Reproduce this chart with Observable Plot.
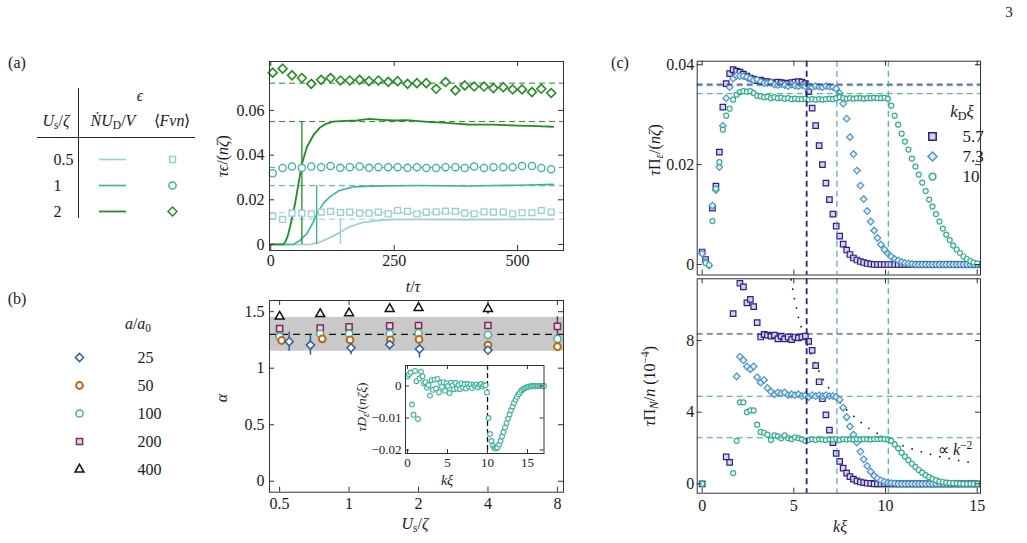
<!DOCTYPE html>
<html><head><meta charset="utf-8">
<script src="https://cdn.jsdelivr.net/npm/d3@7"></script>
<script src="https://cdn.jsdelivr.net/npm/@observablehq/plot@0.6"></script>
<style>
html,body{margin:0;padding:0;background:#fff;}
#fig{position:relative;width:1027px;height:543px;overflow:hidden;font-family:"Liberation Serif","Times New Roman",serif;color:#1a1a1a;background:#fff;}
#fig svg{position:absolute;left:0;top:0;}
#fig svg, #fig svg text{font-family:"Liberation Serif","Times New Roman",serif !important;}
.lbl{position:absolute;white-space:nowrap;line-height:1;}
sub{font-size:72%;vertical-align:-0.28em;line-height:0;}
sup{font-size:72%;vertical-align:0.5em;line-height:0;}
.hl{position:absolute;background:#222;}
</style></head><body><div id="fig"></div><script>
// ---------------- DATA ----------------
// Panel (a)
const usLabels = ["0.5", "1", "2"];
const tMarkers = [4,24,43,63,82,102,121,141,160,180,199,218,238,257,277,296,315,335,354,374,393,412,432,451,471,490,509,529,548,568];
const fvn05 = [0.0127,0.0112,0.0140,0.0140,0.0137,0.0145,0.0148,0.0143,0.0145,0.0140,0.0140,0.0145,0.0137,0.0152,0.0148,0.0137,0.0145,0.0146,0.0149,0.0148,0.0140,0.0137,0.0146,0.0145,0.0145,0.0137,0.0142,0.0142,0.0152,0.0145];
const fvn1 = [0.0319,0.0342,0.0349,0.0343,0.0349,0.0346,0.0351,0.0343,0.0346,0.0349,0.0343,0.0346,0.0346,0.0346,0.0343,0.0346,0.0342,0.0342,0.0346,0.0346,0.0342,0.0349,0.0342,0.0346,0.0346,0.0346,0.0351,0.0351,0.0342,0.0337];
const fvn2 = [0.0769,0.0787,0.0757,0.0745,0.0719,0.0737,0.0745,0.0734,0.0734,0.0737,0.0731,0.0734,0.0728,0.0731,0.0719,0.0722,0.0722,0.0697,0.0727,0.0690,0.0712,0.0707,0.0707,0.0700,0.0704,0.0694,0.0694,0.0682,0.0697,0.0678];
const curveT05 = [0,79,99,119,141,159,186,219,253,300,400,500,572];
const curveE05 = [0,0,0.001,0.003,0.0055,0.0078,0.0098,0.0108,0.0112,0.0112,0.0111,0.0112,0.0112];
const curveT1 = [0,46,59,73,86,93,106,119,139,166,199,250,300,350,400,450,500,540,572];
const curveE1 = [0,0,0.0018,0.0048,0.0100,0.0137,0.0182,0.0212,0.0242,0.0257,0.0261,0.0263,0.0264,0.0263,0.0262,0.0264,0.0265,0.0267,0.0269];
const curveT2 = [0,25,29,34,39,44,49,56,63,73,86,99,112,126,150,175,200,225,250,275,300,325,350,375,400,425,450,475,500,525,550,572];
const curveE2 = [0,0,0.001,0.0035,0.0078,0.0128,0.018,0.027,0.036,0.0435,0.0488,0.0522,0.054,0.055,0.0553,0.0555,0.0562,0.0558,0.0555,0.0557,0.0552,0.0548,0.0545,0.0541,0.0537,0.0536,0.0536,0.0534,0.0532,0.0531,0.0529,0.0527];
const halfT = [141, 93, 63];
const theoryEps = [0.0113, 0.0263, 0.0550];
const meanFvn = [0.0142, 0.0345, 0.0722];
const aTicksX = [0, 250, 500];
const aTicksY = [0, 0.02, 0.04, 0.06];

// Panel (b)
const aSizes = [25, 50, 100, 200, 400];
const bX25 = [0.55,0.68,1.02,1.50,2.02,4.00];
const bY25 = [1.235,1.205,1.180,1.210,1.170,1.160];
const bE25 = [0.085,0.09,0.06,0.05,0.08,0.025];
const bX50 = [0.51,0.765,1.01,1.51,2.01,4.0,8.0];
const bY50 = [1.245,1.26,1.25,1.25,1.255,1.205,1.19];
const bE50 = [0.03,0.02,0.02,0.02,0.02,0.02,0.02];
const bX100 = [0.5,0.75,1.0,1.5,2.0,4.0,8.0];
const bY100 = [1.28,1.305,1.305,1.305,1.31,1.295,1.26];
const bE100 = [0.015,0.015,0.015,0.015,0.015,0.015,0.02];
const bX200 = [0.5,0.75,1.0,1.5,2.0,4.0,8.0];
const bY200 = [1.35,1.355,1.365,1.375,1.378,1.378,1.37];
const bE200 = [0.02,0.02,0.02,0.02,0.02,0.02,0.085];
const bX400 = [0.5,0.75,1.0,1.5,2.0,4.0];
const bY400 = [1.457,1.48,1.487,1.525,1.534,1.525];
const bE400 = [0.01,0.01,0.01,0.01,0.01,0.045];
const alphaMean = 1.3, alphaLo = 1.15, alphaHi = 1.45;
const bTicksX = [0.5, 1, 2, 4, 8];
const bTicksY = [0, 0.5, 1, 1.5];

// Inset of (b)
const kGrid = [0,0.19,0.38,0.56,0.75,0.94,1.13,1.31,1.5,1.69,1.88,2.06,2.25,2.44,2.63,2.81,3,3.19,3.38,3.56,3.75,3.94,4.13,4.31,4.5,4.69,4.88,5.06,5.25,5.44,5.63,5.81,6,6.19,6.38,6.56,6.75,6.94,7.13,7.31,7.5,7.69,7.88,8.06,8.25,8.44,8.63,8.81,9,9.19,9.38,9.56,9.75,9.94,10.13,10.31,10.5,10.69,10.88,11.06,11.25,11.44,11.63,11.81,12,12.19,12.38,12.56,12.75,12.94,13.13,13.31,13.5,13.69,13.88,14.06,14.25,14.44,14.63,14.81,15];
const insetK = kGrid.concat([15.19,15.38,15.56,15.75,15.94,16.13,16.31,16.5,16.69,16.88,17.06]);
const insetD = [0.0030,0.0036,0.0042,-0.0058,-0.0090,0.0047,0.0015,-0.0103,0.0024,0.0045,
 0.0030,0.0008,0.0012,-0.0005,0.0003,-0.0030,0.0018,-0.0012,0.0020,-0.0008,
 0.0022,-0.0020,0.0010,-0.0003,0.0012,-0.0015,0.0008,0.0000,-0.0022,0.0010,
 0.0002,-0.0010,0.0010,-0.0008,0.0003,-0.0010,0.0008,-0.0005,0.0006,-0.0008,
 0.0006,-0.0002,0.0005,-0.0006,0.0004,0.0000,0.0005,-0.0004,0.0003,0.0006,
 -0.0002,0.0004,0.0002,
 -0.0020,-0.0100,-0.0150,-0.0172,-0.0187,-0.0194,-0.0195,-0.0192,-0.0183,-0.0172,
 -0.0158,-0.0144,-0.0130,-0.0116,-0.0102,-0.0089,-0.0076,-0.0064,-0.0053,-0.0043,
 -0.0034,-0.0026,-0.0020,-0.0014,-0.0010,-0.0007,-0.0005,-0.0003,-0.0002,-0.0001,
 0,0,0,0,0,0,0,0,0];
const insetKD = 10;
const inTicksX = [0, 5, 10, 15];
const inTicksY = [0, -0.01, -0.02];

// Panel (c)
const kdLabels = ["5.7", "7.3", "10"];
const kdValues = [5.7, 7.35, 10.15];
const piE57 = [0.0025,0.0010,null,0.0113,0.0157,0.0225,0.0315,0.0362,0.0382,0.0390,
 0.0387,0.0385,0.0381,0.0377,0.0373,0.0371,0.0368,0.0369,0.0366,0.0366,
 0.0364,0.0363,0.0365,0.0364,0.0363,0.0362,0.0364,0.0365,0.0366,0.0365,
 0.0362,0.0346,0.0313,0.0278,0.0238,0.0200,0.0163,0.0130,0.0101,0.0077,
 0.0057,0.0041,0.0029,0.0020,0.0013,0.0009,0.0006,0.0004,0.0002,0.0001,
 0,0,0,0,0,0,0,0,0,0, 0,0,0,0,0,0,0,0,0,0, 0,0,0,0,0,0,0,0,0,0, 0];
const piE73 = [0.0022,0.0005,-0.0002,0.0118,0.0149,0.0195,0.0278,0.0333,0.0355,0.0372,
 0.0378,0.0377,0.0377,0.0375,0.0372,0.0369,0.0370,0.0366,0.0363,0.0363,
 0.0365,0.0360,0.0359,0.0361,0.0359,0.0357,0.0360,0.0358,0.0357,0.0359,
 0.0356,0.0358,0.0355,0.0357,0.0356,0.0355,0.0357,0.0356,0.0355,0.0352,
 0.0343,0.0322,0.0292,0.0255,0.0221,0.0188,0.0158,0.0131,0.0107,0.0086,
 0.0068,0.0053,0.0040,0.0030,0.0022,0.0016,0.0011,0.0008,0.0005,0.0003,
 0.0002,0.0001,0,0,0,0,0,0,0,0, 0,0,0,0,0,0,0,0,0,0, 0];
const piE10 = [null,0.0003,-0.0001,0.0087,0.0152,0.0205,0.0270,0.0298,0.0312,0.0330,
 0.0340,0.0345,0.0347,0.0346,0.0347,0.0343,0.0338,0.0337,0.0335,0.0336,
 0.0333,0.0335,0.0333,0.0334,0.0332,0.0333,0.0331,0.0332,0.0331,0.0331,
 0.0332,0.0330,0.0331,0.0330,0.0331,0.0330,0.0331,0.0332,0.0331,0.0333,
 0.0335,0.0333,0.0332,0.0333,0.0332,0.0333,0.0333,0.0332,0.0333,0.0333,
 0.0334,0.0333,0.0333,0.0334,0.0332,0.0318,0.0298,0.0280,0.0262,0.0246,
 0.0230,0.0212,0.0196,0.0180,0.0164,0.0147,0.0130,0.0116,0.0101,0.0086,
 0.0072,0.0060,0.0049,0.0038,0.0030,0.0023,0.0016,0.0011,0.0007,0.0004, 0.0002];
const piEMean = [0.0361, 0.0358, 0.0342];
const piN57 = [0,null,null,null,null,null,null,1.5,1.2,9.5,
 null,11.2,11.0,10.1,10.3,9.9,9.0,8.2,8.35,8.3,
 8.25,8.3,8.1,8.25,8.1,8.2,8.05,8.2,8.15,8.2,
 8.25,7.95,7.45,6.6,5.7,4.75,3.85,3.0,2.3,1.7,
 1.25,0.88,0.6,0.4,0.26,0.16,0.1,0.06,0.03,0.02,
 0,0,0,0,0,0,0,0,0,0, 0,0,0,0,0,0,0,0,0,0, 0,0,0,0,0,0,0,0,0,0, 0];
const piN73 = [0,null,null,null,null,null,null,null,null,null,
 6.0,7.1,6.9,6.55,6.4,6.55,5.95,5.65,5.8,5.35,
 5.15,5.0,5.1,5.05,5.1,4.95,5.0,4.95,5.0,4.9,
 4.95,4.85,4.95,4.9,4.95,4.9,4.95,4.9,4.9,4.85,
 4.7,4.25,3.72,3.2,2.75,2.3,1.8,1.37,1.0,0.68,
 0.45,0.3,0.19,0.12,0.07,0.04,0.02,0,0,0,
 0,0,0,0,0,0,0,0,0,0, 0,0,0,0,0,0,0,0,0,0, 0];
const piN10 = [0,null,null,null,null,null,null,null,null,0.6,
 2.4,4.55,4.55,4.0,4.1,4.1,3.3,2.9,2.85,2.75,
 2.45,2.7,2.65,2.55,2.7,2.55,2.5,2.6,2.55,2.5,
 2.4,2.45,2.5,2.45,2.5,2.48,2.45,2.5,2.48,2.5,
 2.45,2.5,2.48,2.5,2.48,2.5,2.48,2.5,2.5,2.48,
 2.5,2.5,2.52,2.5,2.48,2.4,2.2,1.98,1.74,1.52,
 1.32,1.12,0.94,0.77,0.62,0.48,0.37,0.28,0.2,0.14,
 0.1,0.07,0.05,0.03,0.02,0.01,0,0,0,0, 0];
const piNMean = [8.37, 4.89, 2.57];
const powK = [4.85,5.0,5.25,5.5,5.75,6.0,6.5,7.0,7.5,8.0,9.0,10.0,11.0,12.0,13.0,14.0,15.0];
const powN = [11.4,10.5,9.3,8.4,7.7,7.1,6.0,5.2,4.55,4.0,3.15,2.55,2.1,1.77,1.5,1.3,1.13];
const cTicksX = [0, 5, 10, 15];
const cTicksYtop = [0, 0.02, 0.04];
const cTicksYbot = [0, 4, 8];

// ---------------- STYLE / LAYOUT ----------------
const W = 1027, H = 543;
const SERIF = '"Liberation Serif","Times New Roman",serif';
const aCol = ["#97cfd1", "#3bb39a", "#248c24"];
const bCol = {25: "#2f5f9e", 50: "#c0660f", 100: "#3ab494", 200: "#7a2e5e", 400: "#111111"};
const cCol = ["#2e1f80", "#4a93c6", "#2fae8a"];
const FRAME = "#333";
const boxA = {l: 269, r: 563, t: 61, b: 250};
const boxB = {l: 269, r: 563, t: 300, b: 491.7};
const boxIn = {l: 405, r: 543.5, t: 365, b: 453};
const boxC1 = {l: 696.7, r: 980, t: 60.7, b: 274.5};
const boxC2 = {l: 696.7, r: 980, t: 278.3, b: 492.7};
const bXDomain = [0.452, 8.5];

const fig = document.getElementById("fig");

function framePlot(box, xs, ys, marks, fontSize = 16) {
  return Plot.plot({
    width: W, height: H,
    marginLeft: box.l, marginRight: W - box.r, marginTop: box.t, marginBottom: H - box.b,
    x: {axis: null, ...xs}, y: {axis: null, ...ys},
    style: {fontFamily: SERIF, fontSize: fontSize + "px", background: "transparent", color: "#1a1a1a", overflow: "visible"},
    marks
  });
}
function frameTicks(box, xt, yt, len = 5) {
  const fw = box.r - box.l, fh = box.b - box.t, st = {stroke: FRAME, strokeWidth: 1};
  const m = [];
  if (xt) m.push(Plot.tickX(xt, {x: d => d, insetTop: fh - len, ...st}), Plot.tickX(xt, {x: d => d, insetBottom: fh - len, ...st}));
  if (yt) m.push(Plot.tickY(yt, {y: d => d, insetRight: fw - len, ...st}), Plot.tickY(yt, {y: d => d, insetLeft: fw - len, ...st}));
  return m;
}
// tick labels drawn as text marks positioned through the scales
function xLabels(ticks, fmt, dy, fs) {
  return Plot.text(ticks, {x: d => d, text: fmt, frameAnchor: "bottom", dy, lineAnchor: "top", fontSize: fs});
}
function yLabels(ticks, fmt, dx, fs) {
  return Plot.text(ticks, {y: d => d, text: fmt, frameAnchor: "left", dx: -dx, textAnchor: "end", fontSize: fs});
}
const fmtNum = d => d === 0 ? "0" : String(d).replace("-", "\u2212");
function label(html, x, y, {size = 16, rotate = false, anchor = "middle"} = {}) {
  const d = document.createElement("div");
  d.className = "lbl";
  d.innerHTML = html;
  d.style.left = x + "px"; d.style.top = y + "px"; d.style.fontSize = size + "px";
  const tx = anchor === "start" ? "0" : anchor === "end" ? "-100%" : "-50%";
  d.style.transform = `translate(${tx},-50%)` + (rotate ? " rotate(-90deg)" : "");
  fig.appendChild(d);
}
function hline(x, y, w, h) {
  const d = document.createElement("div");
  d.className = "hl";
  d.style.left = x + "px"; d.style.top = y + "px"; d.style.width = w + "px"; d.style.height = h + "px";
  fig.appendChild(d);
}
const idx = a => d3.range(a.length);

// ---------------- PANEL (a) ----------------
const curves = [[curveT05, curveE05], [curveT1, curveE1], [curveT2, curveE2]];
const fvns = [fvn05, fvn1, fvn2];
const aSym = [{symbol: "square", r: 3.3}, {symbol: "circle", r: 3.6}, {symbol: "diamond2", r: 4.0}];
fig.appendChild(framePlot(boxA, {domain: [-2.6, 593]}, {domain: [-0.0027, 0.0819]}, [
  ...theoryEps.map((v, i) => Plot.ruleY([v], {stroke: aCol[i], strokeDasharray: "6,4", strokeWidth: 1})),
  ...meanFvn.map((v, i) => Plot.ruleY([v], {stroke: aCol[i], strokeDasharray: "6,4", strokeWidth: 1})),
  ...curves.map(([T, E], i) => Plot.line(idx(T), {x: j => T[j], y: j => E[j], stroke: aCol[i], strokeWidth: i === 2 ? 1.8 : 1.6})),
  ...halfT.map((t, i) => Plot.ruleX([t], {y1: 0, y2: theoryEps[i], stroke: aCol[i], strokeWidth: 1.3})),
  ...fvns.map((F, i) => Plot.dot(idx(tMarkers), {x: j => tMarkers[j], y: j => F[j], ...aSym[i], stroke: aCol[i], fill: "white", strokeWidth: i === 2 ? 1.6 : 1.3})),
  Plot.frame({stroke: FRAME, strokeWidth: 1}),
  ...frameTicks(boxA, aTicksX, aTicksY),
  xLabels(aTicksX, fmtNum, 4, 16),
  yLabels(aTicksY, fmtNum, 5, 16)
]));

// table of (a)
fig.appendChild(Plot.plot({
  width: W, height: H, marginLeft: 99, marginRight: W - 126, marginTop: 0, marginBottom: 0,
  x: {axis: null}, y: {type: "point", domain: usLabels, range: [158, 211], padding: 0, axis: null},
  style: {fontFamily: SERIF, fontSize: "16px", background: "transparent", color: "#1a1a1a", overflow: "visible"},
  marks: [
    ...usLabels.map((u, i) => Plot.tickY([u], {y: d => d, stroke: aCol[i], strokeWidth: i === 2 ? 1.8 : 1.6})),
    ...usLabels.map((u, i) => Plot.dot([u], {y: d => d, frameAnchor: "right", dx: 46, ...aSym[i], stroke: aCol[i], fill: "white", strokeWidth: 1.5})),
    Plot.text(usLabels, {y: d => d, text: d => d, frameAnchor: "left", dx: -46, fontSize: 16})
  ]
}));

// ---------------- PANEL (b) ----------------
const bSeries = [
  {s: 400, X: bX400, Y: bY400, E: bE400, symbol: "triangle", r: 3.3, fill: "white"},
  {s: 200, X: bX200, Y: bY200, E: bE200, symbol: "square", r: 3.5, fill: "#e8d2de"},
  {s: 100, X: bX100, Y: bY100, E: bE100, symbol: "circle", r: 3.6, fill: "white"},
  {s: 50, X: bX50, Y: bY50, E: bE50, symbol: "circle", r: 3.4, fill: "white"},
  {s: 25, X: bX25, Y: bY25, E: bE25, symbol: "diamond2", r: 3.7, fill: "white"}
];
fig.appendChild(framePlot(boxB, {type: "log", domain: bXDomain}, {domain: [-0.097, 1.599]}, [
  Plot.rect([alphaLo], {x1: bXDomain[0], x2: bXDomain[1], y1: alphaLo, y2: alphaHi, fill: "#c9c9c9"}),
  Plot.ruleY([alphaMean], {stroke: "#111", strokeDasharray: "7,5", strokeWidth: 1.2}),
  ...bSeries.map(S => Plot.ruleX(idx(S.X), {x: j => S.X[j], y1: j => S.Y[j] - S.E[j], y2: j => S.Y[j] + S.E[j], stroke: bCol[S.s], strokeWidth: 1.5})),
  ...bSeries.map(S => Plot.dot(idx(S.X), {x: j => S.X[j], y: j => S.Y[j], symbol: S.symbol, r: S.r, fill: S.fill, stroke: bCol[S.s], strokeWidth: S.s === 50 ? 2 : 1.5})),
  Plot.frame({stroke: FRAME, strokeWidth: 1}),
  ...frameTicks(boxB, bTicksX, bTicksY),
  xLabels(bTicksX, d => String(d), 5.5, 16),
  yLabels(bTicksY, d => String(d), 5, 16)
]));

// inset
fig.appendChild(framePlot(boxIn, {domain: [-0.25, 17.06]}, {domain: [-0.0211, 0.0064]}, [
  Plot.frame({fill: "white"}),
  Plot.ruleX([insetKD], {stroke: "#111", strokeDasharray: "5,3", strokeWidth: 1.3}),
  Plot.dot(idx(insetK), {x: j => insetK[j], y: j => insetD[j], r: 2.4, stroke: aCol[1], fill: "white", strokeWidth: 1.1}),
  Plot.frame({stroke: FRAME, strokeWidth: 1}),
  ...frameTicks(boxIn, inTicksX, inTicksY, 4),
  xLabels(inTicksX, d => String(d), 4, 13),
  yLabels(inTicksY, fmtNum, 4, 13)
], 13));

// legend (b)
fig.appendChild(Plot.plot({
  width: W, height: H, marginLeft: 79, marginRight: W - 200, marginTop: 0, marginBottom: 0,
  x: {axis: null}, y: {type: "point", domain: aSizes, range: [357, 469], padding: 0, axis: null},
  style: {fontFamily: SERIF, fontSize: "16px", background: "transparent", color: "#1a1a1a", overflow: "visible"},
  marks: [
    ...bSeries.map(S => Plot.dot([S.s], {y: d => d, frameAnchor: "left", symbol: S.symbol, r: S.r, fill: S.fill, stroke: bCol[S.s], strokeWidth: S.s === 50 ? 2 : 1.5})),
    Plot.text(aSizes, {y: d => d, text: d => String(d), frameAnchor: "left", dx: 58, fontSize: 16})
  ]
}));

// ---------------- PANEL (c) ----------------
const cSym = [
  {symbol: "square", r: 3.1, fill: "#d8d1ef"},
  {symbol: "diamond2", r: 3.0, fill: "#e4eef8"},
  {symbol: "circle", r: 2.5, fill: "white"}
];
const topSeries = [piE57, piE73, piE10];
const botSeries = [piN57, piN73, piN10];
const cX = {domain: [-0.27, 15.18]};
fig.appendChild(framePlot(boxC1, cX, {domain: [-0.0021, 0.0407]}, [
  ...topSeries.map((S, i) => Plot.dot(idx(kGrid), {x: j => kGrid[j], y: j => S[j], ...cSym[i], stroke: cCol[i], strokeWidth: 1.2})),
  ...piEMean.map((v, i) => Plot.ruleY([v], {stroke: cCol[i], strokeDasharray: "6,4", strokeWidth: 1})),
  ...kdValues.map((v, i) => Plot.ruleX([v], {stroke: cCol[i], strokeDasharray: "6,4", strokeWidth: i === 0 ? 1.8 : 1.1})),
  Plot.frame({stroke: FRAME, strokeWidth: 1}),
  ...frameTicks(boxC1, cTicksX, cTicksYtop),
  yLabels(cTicksYtop, fmtNum, 3, 16)
]));
fig.appendChild(framePlot(boxC2, cX, {domain: [-0.525, 11.45]}, [
  Plot.line(idx(powK), {x: j => powK[j], y: j => powN[j], stroke: "#111", strokeWidth: 1.7, strokeDasharray: "0.1,9.5", strokeLinecap: "round"}),
  ...botSeries.map((S, i) => Plot.dot(idx(kGrid), {x: j => kGrid[j], y: j => S[j], ...cSym[i], stroke: cCol[i], strokeWidth: 1.2})),
  ...piNMean.map((v, i) => Plot.ruleY([v], {stroke: cCol[i], strokeDasharray: "6,4", strokeWidth: 1})),
  ...kdValues.map((v, i) => Plot.ruleX([v], {stroke: cCol[i], strokeDasharray: "6,4", strokeWidth: i === 0 ? 1.8 : 1.1})),
  Plot.frame({stroke: FRAME, strokeWidth: 1}),
  ...frameTicks(boxC2, cTicksX, cTicksYbot),
  xLabels(cTicksX, d => String(d), 6, 16),
  yLabels(cTicksYbot, d => String(d), 3, 16)
]));

// legend (c)
fig.appendChild(Plot.plot({
  width: W, height: H, marginLeft: 932, marginRight: W - 1000, marginTop: 0, marginBottom: 0,
  x: {axis: null}, y: {type: "point", domain: kdLabels, range: [135, 176], padding: 0, axis: null},
  style: {fontFamily: SERIF, fontSize: "17px", background: "transparent", color: "#1a1a1a", overflow: "visible"},
  marks: [
    ...kdLabels.map((k, i) => Plot.dot([k], {y: d => d, frameAnchor: "left", symbol: cSym[i].symbol, r: cSym[i].r * 1.35, fill: cSym[i].fill, stroke: cCol[i], strokeWidth: 1.5})),
    Plot.text(kdLabels, {y: d => d, text: d => d, frameAnchor: "left", dx: 30, fontSize: 17})
  ]
}));

// ---------------- TEXT ----------------
label("3", 1009, 12, {size: 15});
label("(a)", 17, 63, {size: 16});
label("(b)", 17, 299, {size: 16});
label("(c)", 620, 63, {size: 16});
// table headers / rules
label("<i>ϵ</i>", 140, 96, {size: 16});
label("<i>U</i><sub>s</sub>/<i>ζ</i>", 56, 121, {size: 16});
label("<i>Ṅ</i><i>U</i><sub>D</sub>/<i>V</i>", 113, 121, {size: 16});
label("⟨<i>Fvn</i>⟩", 172, 121, {size: 16});
hline(37, 137, 158, 1.3);
hline(78, 88, 1.3, 130);
// axis titles
label("<i>t</i>/<i>τ</i>", 413, 287, {size: 16});
label("<i>τϵ</i>/(<i>nζ</i>)", 223, 156, {size: 16, rotate: true});
label("<i>α</i>", 222, 398, {size: 16, rotate: true});
label("<i>U</i><sub>s</sub>/<i>ζ</i>", 415, 524, {size: 16});
label("<i>a</i>/<i>a</i><sub>0</sub>", 138, 324, {size: 16});
label("<i>τD</i><sub><i>ε</i></sub>/(<i>nζξ</i>)", 362, 407, {size: 13.5, rotate: true});
label("<i>kξ</i>", 447, 481, {size: 14});
label("<i>τ</i>Π<sub><i>ε</i></sub>/(<i>nζ</i>)", 655, 150, {size: 16, rotate: true});
label("<i>τ</i>Π<sub><i>N</i></sub>/<i>n</i> (10<sup>−4</sup>)", 650, 386, {size: 16, rotate: true});
label("<i>kξ</i>", 840, 527, {size: 16});
label("<i>k</i><sub>D</sub><i>ξ</i>", 962, 111, {size: 17});
label("∝ <i>k</i><sup>−2</sup>", 938, 450, {size: 16, anchor: "start"});
</script></body></html>
